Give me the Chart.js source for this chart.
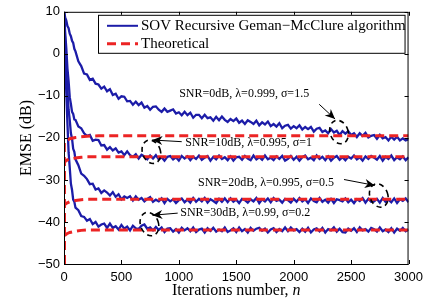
<!DOCTYPE html>
<html lang="en">
<head>
<meta charset="UTF-8" />
<title>EMSE vs iterations</title>
<script src="https://cdn.jsdelivr.net/npm/chart.js"></script>
<style>
  html, body { margin: 0; background: #fff; }
  #wrap { width: 429px; height: 303px; }
</style>
</head>
<body>
<div id="wrap"><canvas id="emse" width="429" height="303"></canvas></div>
<script>
// iterations sampled for the simulated (noisy) curves
const iters = [0,10,20,30,40,50,60,70,80,90,100,125,150,175,
  200,225,250,275,300,325,350,375,400,425,
  450,475,500,525,550,575,600,625,650,675,
  700,725,750,775,800,825,850,875,900,925,
  950,975,1000,1025,1050,1075,1100,1125,1150,1175,
  1200,1225,1250,1275,1300,1325,1350,1375,1400,1425,
  1450,1475,1500,1525,1550,1575,1600,1625,1650,1675,
  1700,1725,1750,1775,1800,1825,1850,1875,1900,1925,
  1950,1975,2000,2025,2050,2075,2100,2125,2150,2175,
  2200,2225,2250,2275,2300,2325,2350,2375,2400,2425,
  2450,2475,2500,2525,2550,2575,2600,2625,2650,2675,
  2700,2725,2750,2775,2800,2825,2850,2875,2900,2925,
  2950,2975,3000];

// SOV recursive Geman-McClure, EMSE in dB
const sim0dB = [10,8.7,7.9,6.6,6.1,4.8,4.2,3.1,2.6,1.2,0.6,-1.8,-2.9,-4.7,
  -4.9,-6.2,-5.9,-7.1,-7.3,-8.3,-7.8,-8.9,-8.4,-9.8,
  -9.5,-10.7,-10.1,-10.2,-11.3,-11.2,-12.1,-11.4,-12.2,-11.6,
  -12.8,-12.4,-13.3,-12.6,-12.5,-13.3,-13.8,-13.0,-13.8,-13.5,
  -13.2,-14.2,-13.9,-14.6,-13.8,-14.6,-14.0,-15.2,-14.5,-14.5,
  -15.3,-14.5,-15.3,-15.1,-15.9,-15.0,-15.8,-14.9,-15.7,-16.2,
  -15.5,-16.0,-15.4,-16.4,-15.9,-16.7,-15.8,-16.2,-16.7,-15.9,
  -17.0,-16.3,-16.8,-16.1,-17.2,-16.7,-17.3,-16.5,-17.7,-17.1,
  -16.9,-17.8,-17.2,-17.7,-17.0,-18.0,-17.4,-17.9,-17.4,-18.5,
  -17.8,-17.6,-18.6,-18.2,-18.9,-17.9,-18.7,-18.3,-19.3,-18.4,
  -19.0,-18.4,-19.3,-18.9,-19.8,-18.9,-19.5,-18.8,-19.9,-19.5,
  -19.3,-20.2,-19.3,-20.1,-19.8,-20.6,-19.7,-20.4,-19.7,-20.6,
  -20.1,-20.6,-20.3];
const sim10dB = [10,5.2,1.3,-3.5,-6.5,-10.3,-11.9,-13.8,-14.3,-15.6,-15.7,-17.3,-17.7,-18.9,
  -19.5,-19.3,-20.7,-20.4,-20.5,-21.8,-21.7,-22.8,-22.2,-23.0,
  -22.5,-23.5,-23.2,-24.1,-23.2,-24.1,-24.5,-23.9,-24.9,-24.0,
  -24.4,-25.1,-24.2,-24.9,-24.1,-25.1,-24.6,-25.4,-24.5,-24.3,
  -25.1,-24.6,-25.4,-24.3,-24.9,-24.4,-25.3,-24.5,-25.0,-24.2,
  -25.2,-24.7,-24.3,-25.4,-24.5,-25.1,-24.2,-25.0,-24.6,-25.3,
  -24.4,-25.4,-24.6,-24.5,-25.2,-24.3,-24.9,-25.3,-24.2,-25.1,
  -24.6,-25.2,-24.2,-25.1,-24.7,-25.3,-24.4,-25.0,-24.3,-25.4,
  -25.0,-24.3,-25.2,-24.5,-25.4,-24.6,-24.2,-25.1,-24.7,-25.3,
  -24.2,-25.0,-24.5,-25.3,-24.4,-25.4,-24.7,-24.3,-25.2,-24.6,
  -25.3,-24.5,-24.9,-24.2,-25.1,-24.6,-25.4,-24.4,-25.0,-24.3,
  -24.7,-25.2,-24.3,-25.4,-24.5,-25.0,-24.2,-25.3,-24.6,-25.1,
  -24.4,-25.3,-24.6];
const sim20dB = [10,2.6,-4.4,-8.7,-13.3,-15.8,-18.9,-20.2,-22.6,-23.3,-25.1,-26.5,-28.5,-29.0,
  -29.8,-31.0,-30.9,-32.3,-32.0,-33.1,-32.5,-33.0,-33.7,-32.9,
  -34.0,-33.4,-34.6,-33.9,-34.3,-33.9,-34.9,-33.9,-34.7,-34.3,
  -35.1,-34.5,-34.1,-35.2,-34.7,-35.1,-34.4,-35.5,-34.5,-35.1,
  -34.6,-35.5,-34.8,-34.4,-35.3,-34.7,-35.4,-34.3,-35.2,-34.5,
  -35.1,-34.3,-35.4,-34.6,-35.0,-35.5,-34.5,-35.2,-34.4,-35.3,
  -34.4,-35.2,-34.7,-35.5,-34.5,-34.8,-35.4,-34.6,-35.1,-34.3,
  -35.5,-34.6,-35.1,-34.4,-35.3,-34.3,-35.0,-34.7,-35.4,-34.5,
  -34.8,-35.4,-34.5,-35.2,-34.3,-35.1,-34.6,-35.5,-34.4,-35.0,
  -35.3,-34.3,-35.2,-34.7,-35.4,-34.5,-35.5,-34.6,-34.8,-35.1,
  -34.4,-35.3,-34.7,-35.5,-34.6,-35.0,-34.3,-35.4,-34.5,-35.2,
  -35.1,-34.5,-35.4,-34.3,-35.2,-34.7,-35.3,-34.4,-35.5,-34.6,
  -35.0,-34.4,-35.3];
const sim30dB = [10,-0.4,-9.3,-16.6,-23.4,-27.1,-30.9,-32.4,-34.7,-35.2,-36.6,-37.2,-38.6,-38.8,
  -39.7,-39.3,-40.5,-40.0,-41.1,-40.6,-40.4,-41.4,-40.4,-41.4,
  -41.0,-41.8,-40.7,-41.6,-41.1,-42.0,-40.9,-41.5,-41.7,-40.9,
  -40.6,-41.6,-41.3,-42.0,-41.2,-41.9,-41.3,-42.4,-41.6,-41.5,
  -42.3,-41.7,-42.5,-41.4,-42.0,-41.5,-42.2,-41.3,-42.4,-41.8,
  -41.6,-42.5,-41.5,-42.1,-41.4,-42.3,-41.8,-42.2,-41.3,-42.4,
  -42.0,-41.5,-42.4,-41.3,-42.2,-41.7,-42.5,-41.4,-42.1,-41.6,
  -41.4,-42.1,-41.6,-42.5,-41.8,-41.5,-42.4,-41.7,-42.2,-41.3,
  -42.2,-41.3,-42.0,-41.7,-42.4,-41.6,-42.3,-41.4,-42.5,-41.8,
  -41.5,-42.2,-41.4,-42.5,-41.7,-42.0,-41.3,-42.3,-41.6,-42.4,
  -42.5,-41.6,-42.1,-41.5,-42.4,-41.3,-42.0,-41.7,-42.3,-41.4,
  -41.7,-42.3,-41.3,-42.2,-41.8,-42.4,-41.5,-42.5,-41.6,-42.1,
  -41.4,-42.2,-41.8];

// theoretical transient curves
const theoIters = [0,3,10,25,50,100,150,200,300,500,1000,3000];
const theo0dB  = [-60,-21.0,-20.9,-20.6,-20.2,-19.9,-19.7,-19.6,-19.5,-19.5,-19.5,-19.5];
const theo10dB = [-60,-25.8,-25.6,-25.3,-25.0,-24.8,-24.6,-24.5,-24.5,-24.5,-24.5,-24.5];
const theo20dB = [-60,-36.0,-35.8,-35.5,-35.2,-34.9,-34.7,-34.6,-34.6,-34.6,-34.6,-34.6];
const theo30dB = [-60,-43.3,-43.1,-42.8,-42.5,-42.2,-42.0,-41.9,-41.9,-41.9,-41.9,-41.9];

const xTicks = [0,500,1000,1500,2000,2500,3000];
const yTicks = [-50,-40,-30,-20,-10,0,10];

// annotations: label position, arrow start/end, ellipse centre (data units)
const noteText = ['SNR=0dB, \u03bb=0.999, \u03c3=1.5', 'SNR=10dB, \u03bb=0.995, \u03c3=1',
                  'SNR=20dB, \u03bb=0.995, \u03c3=0.5', 'SNR=30dB, \u03bb=0.99, \u03c3=0.2'];
const noteAt    = [[1003,-9.6],[1055,-21.2],[1167,-30.6],[1012,-37.9]];
const arrowFrom = [[2222,-12.0],[1025,-20.9],[2438,-29.9],[990,-37.9]];
const arrowTo   = [[2360,-15.5],[770,-20.5],[2706,-31.3],[770,-38.4]];
const ringAt    = [[2395,-18.6],[761,-23.3],[2741,-33.7],[744,-40.5]];

const BLUE = '#1c1ca8';
const RED = '#ec2424';
const SERIF = '"Liberation Serif", "Times New Roman", serif';

const pts = (xs, ys) => xs.map((n, i) => ({ x: n, y: ys[i] }));

const simSet = vals => ({
  label: 'SOV Recursive Geman\u2212McClure algorithm', data: pts(iters, vals),
  borderColor: BLUE, borderWidth: 2.3, pointRadius: 0, tension: 0, order: 1
});
const theoSet = vals => ({
  label: 'Theoretical', data: pts(theoIters, vals),
  borderColor: RED, borderWidth: 3, borderDash: [9, 5], pointRadius: 0, tension: 0, order: 0
});

const overlay = {
  id: 'overlay',
  afterDraw(chart) {
    const { ctx, chartArea: a, scales: { x, y } } = chart;
    ctx.save();

    // box and inward ticks
    ctx.strokeStyle = '#000';
    ctx.lineWidth = 1;
    ctx.setLineDash([]);
    ctx.strokeRect(a.left + 0.5, a.top + 0.5, a.right - a.left - 1, a.bottom - a.top);
    ctx.beginPath();
    xTicks.forEach(v => {
      const px = Math.round(x.getPixelForValue(v)) + 0.5;
      ctx.moveTo(px, a.bottom); ctx.lineTo(px, a.bottom - 4);
      ctx.moveTo(px, a.top); ctx.lineTo(px, a.top + 4);
    });
    yTicks.forEach(v => {
      const py = Math.round(y.getPixelForValue(v)) + 0.5;
      ctx.moveTo(a.left, py); ctx.lineTo(a.left + 4, py);
      ctx.moveTo(a.right, py); ctx.lineTo(a.right - 4, py);
    });
    ctx.stroke();

    // annotations
    ctx.fillStyle = '#000';
    ctx.font = '12px ' + SERIF;
    ctx.textAlign = 'left';
    ctx.textBaseline = 'middle';
    noteText.forEach((t, i) => {
      ctx.fillText(t, x.getPixelForValue(noteAt[i][0]), y.getPixelForValue(noteAt[i][1]));
      const x1 = x.getPixelForValue(arrowFrom[i][0]), y1 = y.getPixelForValue(arrowFrom[i][1]);
      const x2 = x.getPixelForValue(arrowTo[i][0]), y2 = y.getPixelForValue(arrowTo[i][1]);
      const ang = Math.atan2(y2 - y1, x2 - x1);
      ctx.setLineDash([]);
      ctx.lineWidth = 1;
      ctx.beginPath(); ctx.moveTo(x1, y1); ctx.lineTo(x2, y2); ctx.stroke();
      ctx.save();
      ctx.translate(x2, y2); ctx.rotate(ang);
      ctx.beginPath();
      ctx.moveTo(0, 0); ctx.lineTo(-10, -4.5); ctx.lineTo(-7, 0); ctx.lineTo(-10, 4.5);
      ctx.closePath(); ctx.fill();
      ctx.restore();
      ctx.lineWidth = 1.6;
      ctx.setLineDash([5, 4]);
      ctx.beginPath();
      ctx.ellipse(x.getPixelForValue(ringAt[i][0]), y.getPixelForValue(ringAt[i][1]), 9, 12, -0.35, 0, Math.PI * 2);
      ctx.stroke();
    });

    // legend box
    const lx = a.left + 34, ly = a.top + 3, lw = a.right - 4 - lx, lh = 38;
    ctx.setLineDash([]);
    ctx.fillStyle = '#fff';
    ctx.fillRect(lx, ly, lw, lh);
    ctx.lineWidth = 1;
    ctx.strokeRect(lx + 0.5, ly + 0.5, lw, lh);
    const sets = chart.data.datasets;
    const simDs = sets.find(d => d.order === 1), theoDs = sets.find(d => d.order === 0);
    [[simDs, ly + 11], [theoDs, ly + 29]].forEach(([ds, yy]) => {
      ctx.strokeStyle = ds.borderColor;
      ctx.lineWidth = ds.order === 1 ? 2 : 3;
      ctx.setLineDash(ds.borderDash || []);
      ctx.beginPath(); ctx.moveTo(lx + 9, yy); ctx.lineTo(lx + 40, yy); ctx.stroke();
      ctx.setLineDash([]);
      ctx.fillStyle = '#000';
      ctx.font = '15px ' + SERIF;
      ctx.fillText(ds.label, lx + 43, yy);
    });

    // axis titles (italic n)
    ctx.fillStyle = '#000';
    ctx.font = '16px ' + SERIF;
    const t1 = 'Iterations number, ';
    const w1 = ctx.measureText(t1).width;
    ctx.font = 'italic 16px ' + SERIF;
    const w2 = ctx.measureText('n').width;
    const cx = (a.left + a.right) / 2 - (w1 + w2) / 2;
    ctx.font = '16px ' + SERIF;
    ctx.fillText(t1, cx, 291);
    ctx.font = 'italic 16px ' + SERIF;
    ctx.fillText('n', cx + w1, 291);

    ctx.font = '16px ' + SERIF;
    ctx.translate(27, (a.top + a.bottom) / 2);
    ctx.rotate(-Math.PI / 2);
    ctx.textAlign = 'center';
    ctx.fillText('EMSE (dB)', 0, 0);
    ctx.restore();
  }
};

new Chart(document.getElementById('emse'), {
  type: 'line',
  data: {
    datasets: [
      simSet(sim0dB), simSet(sim10dB), simSet(sim20dB), simSet(sim30dB),
      theoSet(theo0dB), theoSet(theo10dB), theoSet(theo20dB), theoSet(theo30dB)
    ]
  },
  options: {
    responsive: false,
    animation: false,
    devicePixelRatio: 1,
    layout: { padding: { top: 10, right: 18, left: 0, bottom: 0 } },
    plugins: { legend: { display: false }, tooltip: { enabled: false } },
    scales: {
      x: {
        type: 'linear', min: 0, max: 3000,
        afterFit: s => { s.height = 39; },
        afterBuildTicks: s => { s.ticks = xTicks.map(v => ({ value: v })); },
        grid: { display: false, drawTicks: false },
        border: { display: false },
        ticks: {
          color: '#000', padding: 6, maxRotation: 0, font: { family: 'Liberation Sans', size: 13 },
          callback: v => String(v)
        }
      },
      y: {
        type: 'linear', min: -50, max: 10,
        afterFit: s => { s.width = 64; },
        afterBuildTicks: s => { s.ticks = yTicks.map(v => ({ value: v })); },
        grid: { display: false, drawTicks: false },
        border: { display: false },
        ticks: {
          color: '#000', padding: 4, font: { family: 'Liberation Sans', size: 13 },
          callback: v => String(v).replace('-', '\u2212')
        }
      }
    }
  },
  plugins: [overlay]
});
</script>
</body>
</html>
